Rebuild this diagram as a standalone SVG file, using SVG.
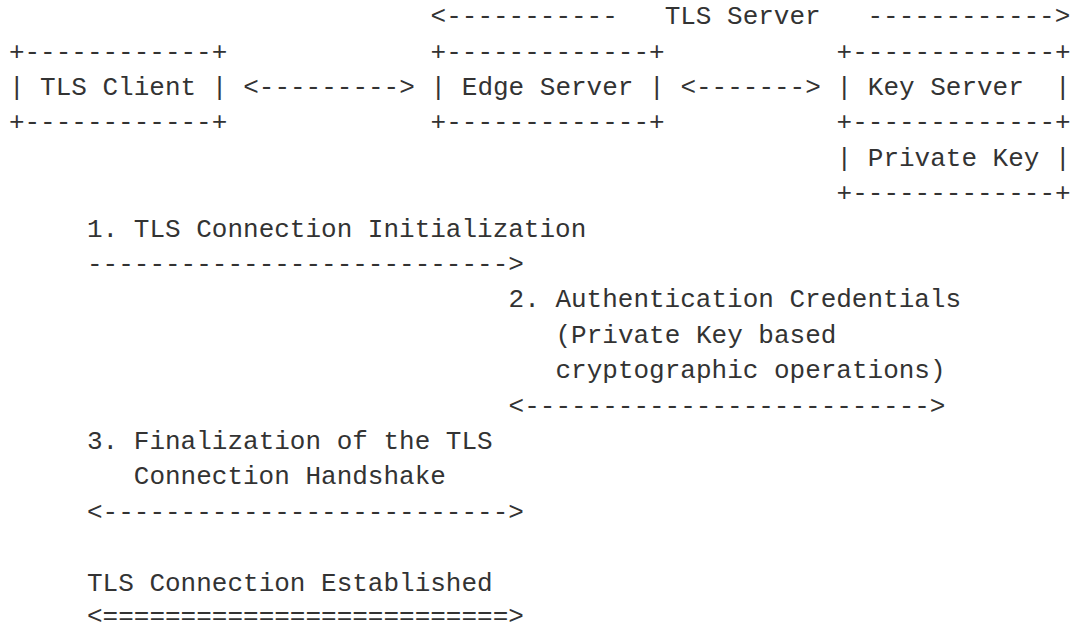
<svg xmlns="http://www.w3.org/2000/svg" width="1071" height="629" viewBox="0 0 1071 629">
<style>
text { font-family: "Liberation Mono", "DejaVu Sans Mono", monospace; font-size: 26px; fill: #333333; white-space: pre; }
</style>
<rect width="1071" height="629" fill="#ffffff"/>
<g id="tls-server-span">
<text x="430.6" y="24.2">&lt;-----------   TLS Server   ------------&gt;</text>
</g>
<g id="tls-client">
<text x="8.9" y="59.6">+------------+</text>
<text x="8.9" y="95.0">| TLS Client |</text>
<text x="8.9" y="130.4">+------------+</text>
</g>
<g id="edge-server">
<text x="430.6" y="59.6">+-------------+</text>
<text x="430.6" y="95.0">| Edge Server |</text>
<text x="430.6" y="130.4">+-------------+</text>
</g>
<g id="key-server">
<text x="836.6" y="59.6">+-------------+</text>
<text x="836.6" y="95.0">| Key Server  |</text>
<text x="836.6" y="130.4">+-------------+</text>
<text x="836.6" y="165.8">| Private Key |</text>
<text x="836.6" y="201.2">+-------------+</text>
</g>
<g id="connectors">
<text x="243.2" y="95.0">&lt;---------&gt;</text>
<text x="680.4" y="95.0">&lt;-------&gt;</text>
<text x="87.0" y="272.0">---------------------------&gt;</text>
<text x="508.6" y="413.6">&lt;--------------------------&gt;</text>
<text x="87.0" y="519.8">&lt;--------------------------&gt;</text>
<text x="87.0" y="623.5">&lt;==========================&gt;</text>
</g>
<g id="step1">
<text x="87.0" y="236.6">1. TLS Connection Initialization</text>
</g>
<g id="step2">
<text x="508.6" y="307.4">2. Authentication Credentials</text>
<text x="555.5" y="342.8">(Private Key based</text>
<text x="555.5" y="378.2">cryptographic operations)</text>
</g>
<g id="step3">
<text x="87.0" y="449.0">3. Finalization of the TLS</text>
<text x="133.8" y="484.4">Connection Handshake</text>
</g>
<g id="established">
<text x="87.0" y="590.6">TLS Connection Established</text>
</g>
</svg>
